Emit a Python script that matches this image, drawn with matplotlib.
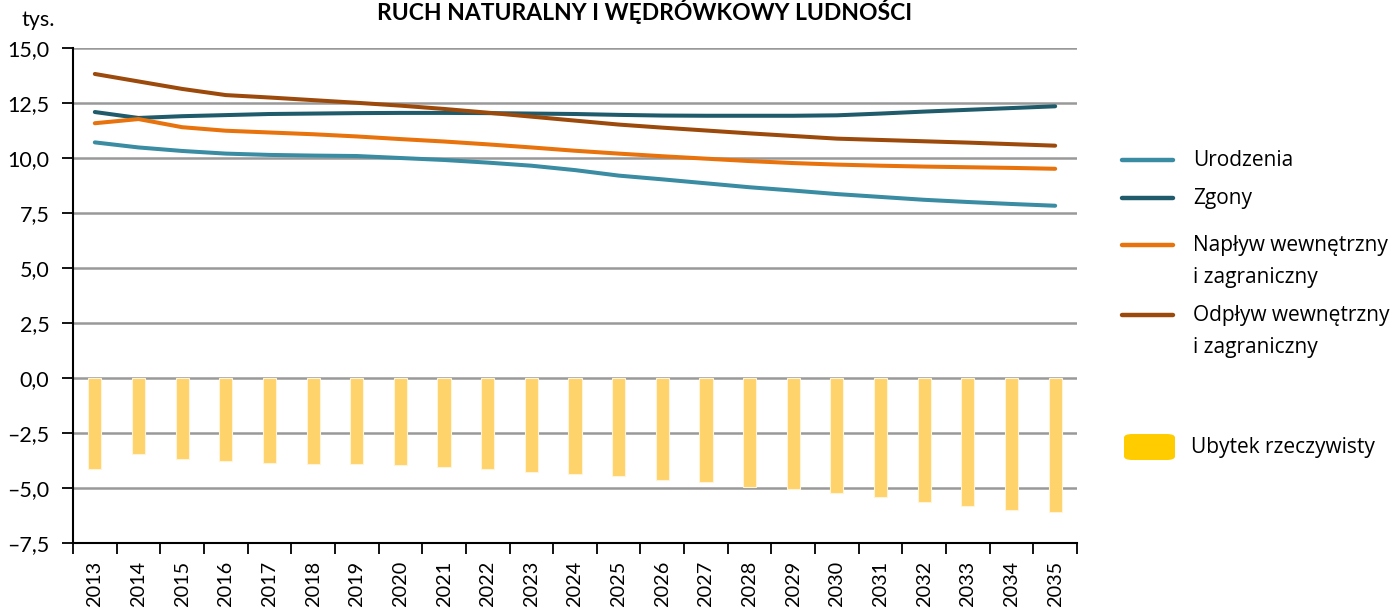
import matplotlib.pyplot as plt
from matplotlib.lines import Line2D
from matplotlib.patches import FancyBboxPatch
import numpy as np

# data (thousands)
years = [str(y) for y in range(2013, 2036)]
urodzenia = [10.71, 10.48, 10.32, 10.20, 10.14, 10.11, 10.09, 10.00, 9.91, 9.79, 9.65, 9.45,
             9.20, 9.03, 8.85, 8.67, 8.52, 8.36, 8.23, 8.10, 8.00, 7.91, 7.83]
zgony = [12.09, 11.82, 11.90, 11.95, 12.00, 12.02, 12.04, 12.05, 12.05, 12.04, 12.02, 12.00,
         11.96, 11.93, 11.92, 11.92, 11.92, 11.94, 12.02, 12.11, 12.19, 12.27, 12.35]
naplyw = [11.58, 11.77, 11.40, 11.24, 11.16, 11.08, 10.98, 10.86, 10.75, 10.62, 10.48, 10.33,
          10.20, 10.08, 9.97, 9.86, 9.77, 9.70, 9.65, 9.61, 9.58, 9.55, 9.51]
odplyw = [13.82, 13.48, 13.14, 12.86, 12.75, 12.63, 12.51, 12.38, 12.23, 12.06, 11.88, 11.70,
          11.52, 11.38, 11.25, 11.12, 11.00, 10.88, 10.82, 10.76, 10.70, 10.63, 10.56]
ubytek = [-4.12, -3.44, -3.67, -3.76, -3.85, -3.89, -3.89, -3.94, -4.05, -4.15, -4.26, -4.35,
          -4.44, -4.62, -4.71, -4.94, -5.03, -5.23, -5.41, -5.62, -5.82, -6.02, -6.11]
yticks = [15.0, 12.5, 10.0, 7.5, 5.0, 2.5, 0.0, -2.5, -5.0, -7.5]

c_uro = '#3a8ca3'
c_zg = '#1f5b6b'
c_nap = '#e8720c'
c_odp = '#9c4a0c'
c_bar = '#ffd36b'
c_leg_bar = '#ffcc00'

font = 'Lato'
plt.rcParams['font.family'] = [font, 'DejaVu Sans']

fig = plt.figure(figsize=(13.95, 6.09), dpi=100)
W, H = 1395, 609
ax = fig.add_axes([73 / W, 1 - 543 / H, (1077 - 73) / W, (543 - 48) / H])

x = np.arange(len(years))
ax.set_axisbelow(True)
ax.bar(x, ubytek, width=0.3, color=c_bar, edgecolor='#fff5d6', linewidth=0.8, zorder=2)
for vals, col in [(urodzenia, c_uro), (zgony, c_zg), (naplyw, c_nap), (odplyw, c_odp)]:
    ax.plot(x, vals, color=col, lw=2.9, solid_capstyle='round', zorder=3)

ax.set_xlim(-0.5, len(years) - 0.5)
ax.set_ylim(-7.5, 15)
ax.set_yticks(yticks)
ax.set_yticklabels([f'{v:.1f}'.replace('.', ',').replace('-', '\u2013') for v in yticks],
                   fontsize=15.5)
ax.yaxis.grid(True, color='#999999', lw=1.8)
ax.tick_params(axis='y', length=8, width=1.3, pad=9)

ax.set_xticks(x)
ax.set_xticklabels(years, rotation=90, fontsize=14.3)
ax.tick_params(axis='x', which='major', length=0, pad=13)
ax.set_xticks(np.arange(-0.5, len(years)), minor=True)
ax.tick_params(axis='x', which='minor', length=8, width=1.3)

for s in ['top', 'right']:
    ax.spines[s].set_visible(False)
for s in ['left', 'bottom']:
    ax.spines[s].set_linewidth(1.5)

fig.text(21 / W, 1 - 20 / H, 'tys.', fontsize=15.5, va='center', ha='left')
fig.text(645 / W, 1 - 20 / H, 'RUCH NATURALNY I WĘDRÓWKOWY LUDNOŚCI', fontsize=16.5,
         fontweight='bold', ha='center', va='baseline')

# legend drawn by hand in pixel positions
leg_font = ['Open Sans', 'DejaVu Sans']
entries = [(160, c_uro, ['Urodzenia']), (198, c_zg, ['Zgony']),
           (245, c_nap, ['Napływ wewnętrzny', 'i zagraniczny']),
           (315, c_odp, ['Odpływ wewnętrzny', 'i zagraniczny'])]
for yy, col, lines in entries:
    fig.add_artist(Line2D([1122 / W, 1173 / W], [1 - yy / H, 1 - yy / H], color=col, lw=3.2,
                          solid_capstyle='round', transform=fig.transFigure))
    for i, lab in enumerate(lines):
        fig.text(1193 / W, 1 - (yy + 32 * i) / H, lab, fontsize=15, family=leg_font,
                 va='center', ha='left')
fig.add_artist(FancyBboxPatch((1124 / W, 1 - 460 / H), 51 / W, 26 / H,
                              boxstyle='round,pad=0,rounding_size=0.006',
                              facecolor=c_leg_bar, edgecolor='none', transform=fig.transFigure))
fig.text(1191 / W, 1 - 447 / H, 'Ubytek rzeczywisty', fontsize=15, family=leg_font,
         va='center', ha='left')

fig.savefig('out.png', dpi=100)
